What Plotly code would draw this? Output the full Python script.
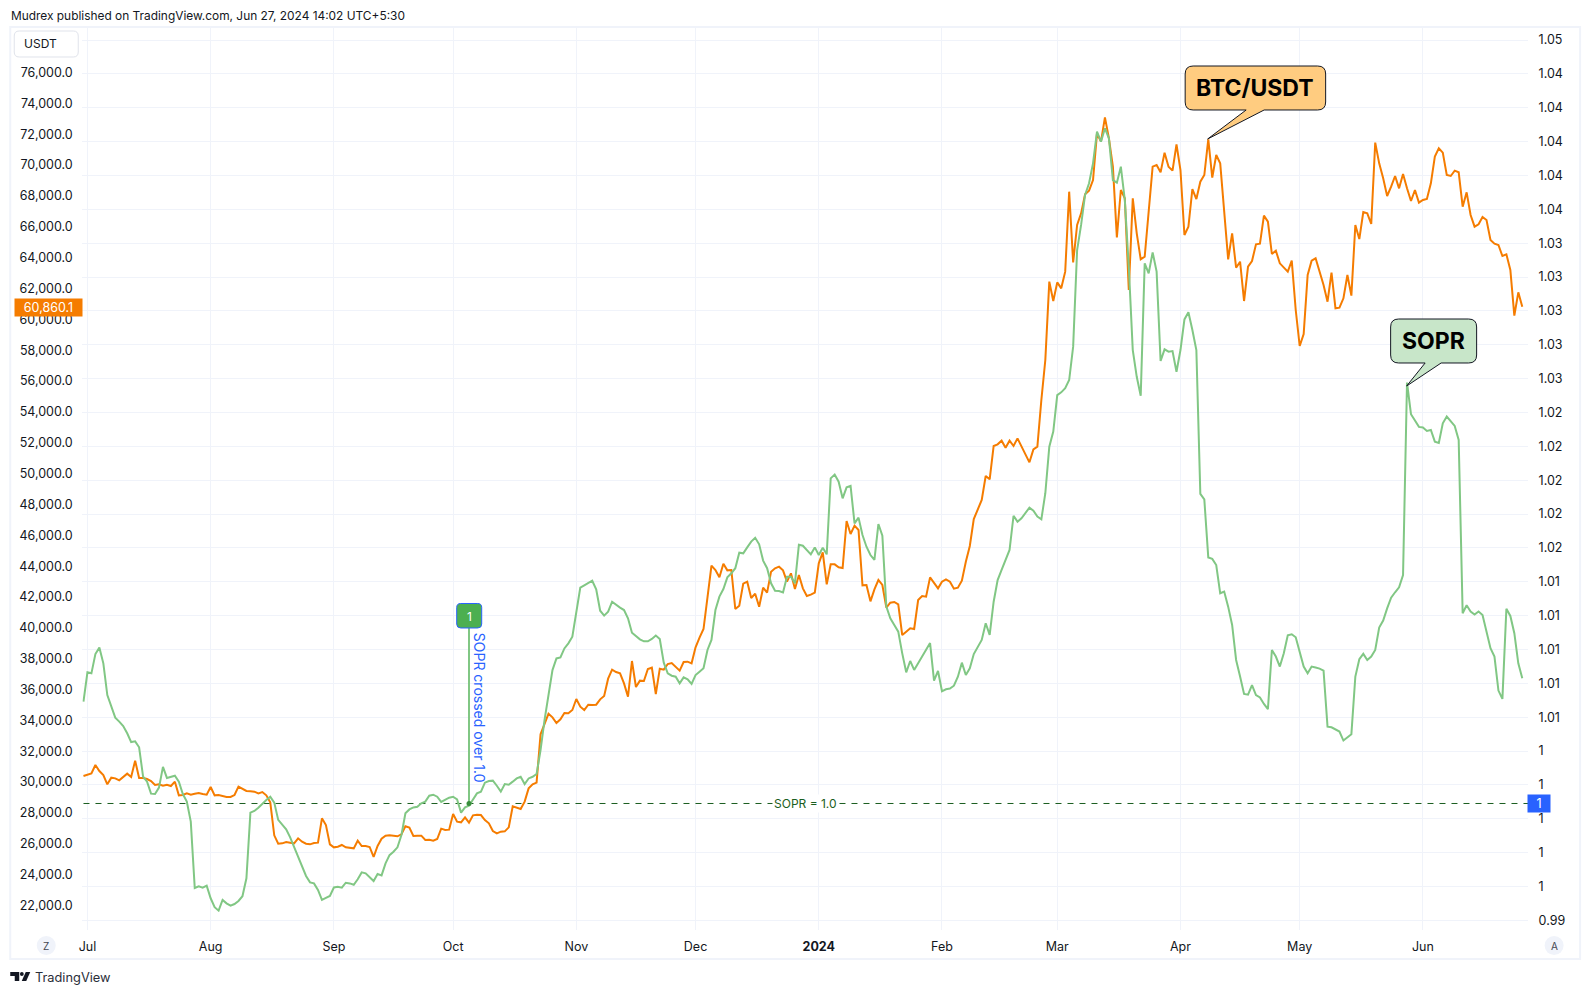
import pandas as pd
import plotly.graph_objects as go

W, H = 1590, 994

# ---------- BTC/USDT daily closes ----------
btc_jun30_aug30 = [30395,30503,30568,31108,30719,30460,29855,30287,30244,30114,30330,30546,30330,31389,30265,30265,30201,30071,29812,29855,
                   29769,29833,29747,30028,29142,29163,29271,29185,29250,29293,29228,29185,29682,29142,29163,29099,29034,29034,29163,29704,
                   29552,29423,29401,29380,29271,29358,29142,28688,26549,26009,26030,26117,26074,26030,26354,26138,26009,25965,26052,26074,
                   27651,27219]
btc_aug31_oct31 = [25966,25771,25815,25923,25771,25728,25706,26203,25858,25858,25793,25145,25858,26333,26528,26550,26506,26484,26614,27133,
                   27046,26506,26528,26528,26247,26268,26203,26312,26981,26895,26917,27932,27435,27392,27716,27370,27846,27889,27867,27543,
                   27327,26830,26679,26787,26809,27068,28429,28321,28257,28732,29596,29856,29964,33097,33810,34437,34200,33832,34070,34480,
                   34458,34675]
btc_nov = [35387,34890,34674,35020,34998,35020,35365,35582,36705,37289,37137,37051,36403,35538,37851,36165,36576,36554,37332,37418,
           35711,37354,37289,37656,37721,37462,37224,37786,37807,37699]
btc_dec = [38736,39363,39925,41978,44031,43750,43275,44161,43729,43750,41222,41438,42864,42994,41935,42216,41373,42605,42281,43642,
           43858,43966,43729,42994,43534,42518,43426,42561,42065,42151,42281]
btc_jan = [44182,44895,42821,44117,44117,43923,43880,46927,46084,46624,46343,42756,42778,41719,42497,43102,42778,41308,41632,41676,
           41524,39536,39752,39968,39925,41805,42065,42022,43275,42929,42561]
btc_feb = [42994,43145,42994,42540,42605,43059,44290,45306,47056,47640,48288,49845,49629,51790,51898,52135,51682,52135,51790,52286,
           51790,51206,50731,51573,51746,54771,57364,62443,61189]
btc_mar = [62399,62010,63091,68277,63696,66116,66873,68104,68342,69034,72059,71518,73096,71735,69898,65317,68385,67845,61902,67845,
           65576,63890,64063,67197,69898,70006,69531,70806,69898,69639,71346]
btc_apr = [69682,65468,66008,68450,67802,68926,69358,71670,69185,70654,70114,66873,63890,65576,63350,63739,61189,63415,63782,64863,
           64906,66722,66333,64237,64453,63632,63351,63092,63805,60607]
btc_may = [58273,59051,62876,63805,63956,63092,62227,61147,63027,60715,60758,61363,62876,61536,66117,65210,66960,66874,66182,71455,
           70115,69143,67997,68602,69294,68494,69423,68494,67673,68386,67565]
btc_jun = [67738,67803,68818,70547,71087,70807,69359,69294,69640,69532,67306,68235,66765,66009,66160,66636,66441,65145,64907,64821,
           64107,64215,63200,60239,61752,60823]

# ---------- SOPR daily values ----------
sopr_jun30_aug31 = [1.00592,1.00765,1.00759,1.00873,1.00911,1.00818,1.00631,1.00562,1.00497,1.00474,1.00448,1.00405,1.00353,1.00357,1.00322,1.00149,
                    1.00119,1.00048,1.00046,1.00084,1.00206,1.00141,1.00149,1.00154,1.00119,1.00046,1.00001,0.99883,0.99491,0.99501,0.99493,0.99505,
                    0.9943,0.99377,0.99357,0.9942,0.994,0.99386,0.99396,0.99414,0.99442,0.99548,0.99936,0.99946,0.99965,0.99991,1.00011,1.0003,
                    0.99995,0.99893,0.99863,0.99837,0.9979,0.99731,0.99682,0.99617,0.99562,0.99524,0.99518,0.99479,0.9942,0.99432,0.99444]
sopr_sep = [0.99494,0.99498,0.99493,0.99522,0.99518,0.9951,0.99542,0.99583,0.99577,0.99557,0.99532,0.99573,0.99565,0.99636,0.99685,0.99705,
            0.99731,0.99804,0.99932,0.99955,0.99967,0.99971,0.99991,1.00001,1.00036,1.00042,1.0003,0.99999,1.0001,1.00024]
sopr_oct = [1.0003,1.00014,0.99936,0.99967,0.99977,1.0001,1.0005,1.0006,1.00113,1.00123,1.00125,1.00095,1.0006,1.00105,1.00101,1.00119,
            1.00138,1.00148,1.00105,1.00138,1.00148,1.00164,1.00306,1.00483,1.00631,1.00778,1.00847,1.00853,1.00906,1.00936,1.00975]
sopr_nov = [1.01133,1.01265,1.01279,1.01293,1.01306,1.01255,1.01129,1.011,1.01123,1.01182,1.01163,1.01147,1.01133,1.01084,1.00999,1.0098,
            1.0096,1.00948,1.00948,1.00962,1.00982,1.00962,1.00822,1.00759,1.00745,1.00739,1.007,1.00735,1.00724,1.00696]
sopr_dec = [1.00749,1.00769,1.00789,1.00897,1.00956,1.01133,1.01212,1.01257,1.01326,1.0135,1.0138,1.01472,1.01468,1.01503,1.01537,1.0156,
            1.01521,1.01425,1.0138,1.01291,1.01247,1.01245,1.01237,1.0133,1.0133,1.01291,1.01519,1.01513,1.01488,1.01462,1.01503]
sopr_jan = [1.01458,1.01501,1.01462,1.01911,1.01933,1.01891,1.01793,1.01858,1.01866,1.01645,1.01679,1.01576,1.01507,1.01458,1.01429,1.01641,
            1.01572,1.01153,1.01084,1.01044,1.01005,1.00877,1.00765,1.00832,1.00779,1.00818,1.00858,1.00897,1.00938,1.00716,1.00773]
sopr_feb = [1.00653,1.00665,1.00669,1.00686,1.00739,1.00822,1.00749,1.00789,1.00873,1.00913,1.00956,1.01055,1.00986,1.01182,1.0131,1.0137,
            1.01429,1.01488,1.0169,1.01655,1.01675,1.01708,1.01738,1.0172,1.01685,1.01669,1.01823,1.02098,1.02187]
sopr_mar = [1.02403,1.02419,1.02443,1.02492,1.02689,1.0326,1.03408,1.03585,1.03654,1.03772,1.03959,1.039,1.03979,1.0392,1.03673,1.03658,
            1.03752,1.03555,1.03161,1.02669,1.02511,1.02399,1.03181,1.03122,1.03246,1.03132,1.02604,1.02673,1.02659,1.02663,1.02541]
sopr_apr = [1.02669,1.0285,1.02892,1.02787,1.02669,1.01819,1.01787,1.01443,1.01435,1.01399,1.01232,1.01242,1.01153,1.01045,1.00838,1.0074,
            1.00637,1.00633,1.0069,1.00631,1.00616,1.00578,1.00547,1.00897,1.00858,1.00799,1.00878,1.00984,1.0099,1.00972]
sopr_may = [1.00887,1.00799,1.00759,1.00799,1.00793,1.00787,1.00775,1.00444,1.0044,1.00429,1.00415,1.00362,1.00381,1.00399,1.0074,1.00842,
            1.00874,1.00838,1.00858,1.00897,1.01029,1.01071,1.01143,1.01206,1.01238,1.01267,1.0134,1.02477,1.0229,1.02252,1.02215]
sopr_jun = [1.02211,1.02191,1.02197,1.02128,1.0212,1.02236,1.02276,1.0225,1.02221,1.02138,1.01114,1.01161,1.01124,1.01106,1.01124,1.01104,
            1.00996,1.00907,1.00858,1.00657,1.00608,1.01141,1.01098,1.00996,1.00818,1.0073]

# ---------- Axis labels ----------
left_tick_values = list(range(22000, 78000, 2000))
left_tick_labels = [f"{v:,}.0" for v in left_tick_values]
right_tick_values = [0.993,0.995,0.997,0.999,1.001,1.003,1.005,1.007,1.009,1.011,1.013,1.015,1.017,1.019,1.021,1.023,1.025,1.027,1.029,1.031,1.033,1.035,1.037,1.039,1.041,1.043,1.045]
right_tick_labels = ["0.99","1","1","1","1","1","1.01","1.01","1.01","1.01","1.01","1.02","1.02","1.02","1.02","1.02","1.03","1.03","1.03","1.03","1.03","1.04","1.04","1.04","1.04","1.04","1.05"]
month_ticks = ["2023-07-01","2023-08-01","2023-09-01","2023-10-01","2023-11-01","2023-12-01","2024-01-01","2024-02-01","2024-03-01","2024-04-01","2024-05-01","2024-06-01"]
month_labels = ["Jul","Aug","Sep","Oct","Nov","Dec","<b>2024</b>","Feb","Mar","Apr","May","Jun"]
SOPR_LEVEL = 0.9999
SIGNAL_DATE = "2023-10-05"
SIGNAL_TOP = 1.01027
LAST_PRICE = "60,860.1"

def daily(segments):
    xs, ys = [], []
    for start, vals in segments:
        xs += list(pd.date_range(start, periods=len(vals), freq="D"))
        ys += vals
    return xs, ys

btc_x, btc_y = daily([("2023-06-30", btc_jun30_aug30), ("2023-08-31", btc_aug31_oct31), ("2023-11-01", btc_nov),
                      ("2023-12-01", btc_dec), ("2024-01-01", btc_jan), ("2024-02-01", btc_feb), ("2024-03-01", btc_mar),
                      ("2024-04-01", btc_apr), ("2024-05-01", btc_may), ("2024-06-01", btc_jun)])
sopr_x, sopr_y = daily([("2023-06-30", sopr_jun30_aug31), ("2023-09-01", sopr_sep), ("2023-10-01", sopr_oct), ("2023-11-01", sopr_nov),
                        ("2023-12-01", sopr_dec), ("2024-01-01", sopr_jan), ("2024-02-01", sopr_feb), ("2024-03-01", sopr_mar),
                        ("2024-04-01", sopr_apr), ("2024-05-01", sopr_may), ("2024-06-01", sopr_jun)])

FONT = "Inter"
INK = "#131722"
GRID = "#f0f3fa"
ORANGE = "#F57C00"
GREEN = "#81C784"
BLUE = "#2962FF"
PL, PR, PT, PB = 82, 1528, 27, 930

def px(x): return (1.00244 * x - 3.76) / W
def py(y): return 1 - y / H
def P(x, y): return f"{px(x):.5f} {py(y):.5f}"

def round_rect_path(x0, y0, x1, y1, r, tail=None):
    """Rounded box; tail=(base_x0, base_x1, tip_x, tip_y) leaves the bottom edge."""
    d = f"M {P(x0+r,y0)} L {P(x1-r,y0)} Q {P(x1,y0)} {P(x1,y0+r)} L {P(x1,y1-r)} Q {P(x1,y1)} {P(x1-r,y1)} "
    if tail:
        d += f"L {P(tail[1],y1)} L {P(tail[2],tail[3])} L {P(tail[0],y1)} "
    d += f"L {P(x0+r,y1)} Q {P(x0,y1)} {P(x0,y1-r)} L {P(x0,y0+r)} Q {P(x0,y0)} {P(x0+r,y0)} Z"
    return d

fig = go.Figure()
fig.add_trace(go.Scatter(x=btc_x, y=btc_y, mode="lines", line=dict(color=ORANGE, width=2), yaxis="y", hoverinfo="skip"))
fig.add_trace(go.Scatter(x=[btc_x[0], btc_x[-1] + pd.Timedelta(days=2)], y=[SOPR_LEVEL, SOPR_LEVEL], mode="lines",
                         line=dict(color="#1B5E20", width=1, dash="6px 6px"), yaxis="y2", hoverinfo="skip"))
fig.add_trace(go.Scatter(x=sopr_x, y=sopr_y, mode="lines", line=dict(color=GREEN, width=2), yaxis="y2", hoverinfo="skip"))
fig.add_trace(go.Scatter(x=[SIGNAL_DATE, SIGNAL_DATE], y=[SOPR_LEVEL, SIGNAL_TOP], mode="lines",
                         line=dict(color=GREEN, width=2), yaxis="y2", hoverinfo="skip"))
fig.add_trace(go.Scatter(x=[SIGNAL_DATE], y=[SOPR_LEVEL], mode="markers", marker=dict(color="#388E3C", size=5), yaxis="y2", hoverinfo="skip"))

shapes = [
    dict(type="rect", xref="paper", yref="paper", x0=px(10), x1=px(1580), y0=py(959), y1=py(27), line=dict(color=GRID, width=2), fillcolor="rgba(0,0,0,0)", layer="below"),
    dict(type="path", xref="paper", yref="paper", path=round_rect_path(14, 31, 78, 57, 5), line=dict(color="#E0E3EB", width=1), fillcolor="white"),
    dict(type="circle", xref="paper", yref="paper", x0=px(36.5), x1=px(55.5), y0=py(955), y1=py(936), line=dict(width=0), fillcolor=GRID),
    dict(type="circle", xref="paper", yref="paper", x0=px(1544.5), x1=px(1563.5), y0=py(955), y1=py(936), line=dict(width=0), fillcolor=GRID),
    dict(type="path", xref="paper", yref="paper", path=round_rect_path(1185, 66, 1325.5, 110, 8, tail=(1246, 1264, 1207.5, 139)), line=dict(color=INK, width=1), fillcolor="#FFCC80"),
    dict(type="path", xref="paper", yref="paper", path=round_rect_path(1390.5, 319, 1476.5, 363, 8, tail=(1425, 1441, 1406.5, 386)), line=dict(color=INK, width=1), fillcolor="#C8E6C9"),
    dict(type="path", xref="paper", yref="paper", path=round_rect_path(456.5, 603.5, 481.5, 628, 4), line=dict(color=BLUE, width=1), fillcolor="#4CAF50"),
    # TradingView logo
    dict(type="path", xref="paper", yref="paper", line=dict(width=0), fillcolor=INK,
         path=f"M {P(10,972)} L {P(19,972)} L {P(19,981)} L {P(14.5,981)} L {P(14.5,976)} L {P(10,976)} Z"),
    dict(type="circle", xref="paper", yref="paper", x0=px(19.7), x1=px(23.5), y0=py(976), y1=py(972), line=dict(width=0), fillcolor=INK),
    dict(type="path", xref="paper", yref="paper", line=dict(width=0), fillcolor=INK,
         path=f"M {P(25.5,972)} L {P(30,972)} L {P(26,981)} L {P(21.5,981)} Z"),
]

def note(x, y, text, size=13, color=INK, anchor="center", weight=None, **kw):
    font = dict(family=FONT, size=size, color=color)
    if weight:
        font["weight"] = weight
    return dict(xref="paper", yref="paper", x=px(x), y=py(y), text=text, showarrow=False, xanchor=anchor, yanchor="middle",
                font=font, **kw)

annotations = [
    note(10, 15.5, "Mudrex published on TradingView.com, Jun 27, 2024 14:02 UTC+5:30", size=11.9, anchor="left", xshift=-1),
    note(23, 44, "USDT", size=12, anchor="left", xshift=-1),
    note(46, 945.5, "Z", size=10, color="#434651"),
    note(1554, 945.5, "A", size=10, color="#434651"),
    note(34, 977, "TradingView", size=12.8, color="#2A2E39", anchor="left", xshift=-1),
    note(1255, 88, "BTC/USDT", size=23, color="#000000", weight=700),
    note(1433.5, 341, "SOPR", size=23, color="#000000", weight=700),
    note(469, 616, "1", size=12, color="white"),
    note(480, 708, "SOPR crossed over 1.0", size=14, color=BLUE, textangle=90),
    note(805, 803.3, "SOPR = 1.0", size=12, color="#1B5E20", bgcolor="white", borderpad=1),
    note(48.5, 307.3, LAST_PRICE, size=12.5, color="white", width=67, height=17, bgcolor=ORANGE, borderpad=0),
    note(1539, 803.5, "1", size=12.5, color="white", width=22, height=17, bgcolor=BLUE, borderpad=0),
]

axis_font = dict(family=FONT, size=12.5, color=INK)
fig.update_layout(
    width=W, height=H, autosize=False, showlegend=False, paper_bgcolor="white", plot_bgcolor="white",
    margin=dict(l=0, r=0, t=0, b=0),
    font=dict(family=FONT, color=INK),
    xaxis=dict(type="date", domain=[px(PL), px(PR)], range=["2023-06-29 16:36", "2024-06-27 11:17"],
               tickmode="array", tickvals=month_ticks, ticktext=month_labels, tickfont=axis_font,
               showgrid=True, gridcolor=GRID, gridwidth=1, zeroline=False, showline=False,
               ticks="outside", ticklen=5, tickcolor="rgba(0,0,0,0)", tickangle=0),
    yaxis=dict(domain=[py(PB), py(PT)], range=[20412, 78953], tickmode="array", tickvals=left_tick_values, ticktext=left_tick_labels,
               tickfont=axis_font, showgrid=False, zeroline=False, showline=False, ticks="outside", ticklen=6, tickcolor="rgba(0,0,0,0)"),
    yaxis2=dict(domain=[py(PB), py(PT)], range=[0.992426, 1.045775], overlaying="y", side="right", anchor="x", tickmode="array",
                tickvals=right_tick_values, ticktext=right_tick_labels, tickfont=axis_font, showgrid=True, gridcolor=GRID, gridwidth=1,
                zeroline=False, showline=False, ticks="outside", ticklen=7, tickcolor="rgba(0,0,0,0)"),
    shapes=shapes, annotations=annotations,
)

fig.write_html("out.html", config={"displayModeBar": False}, post_script="document.body.style.margin='0';document.body.style.overflow='hidden';")
